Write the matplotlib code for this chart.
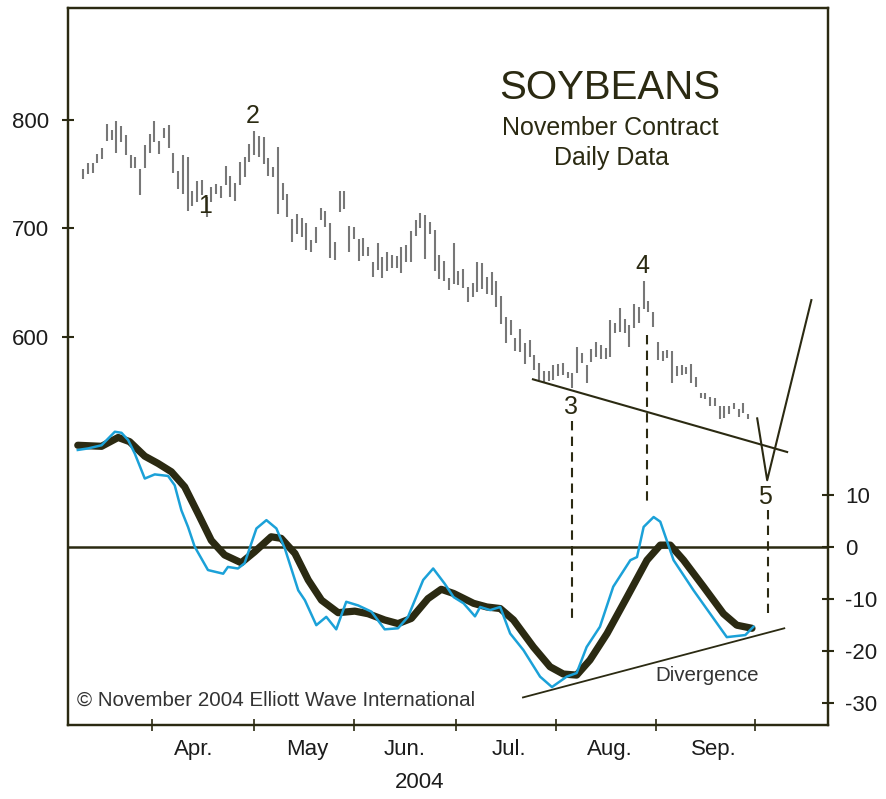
import matplotlib
matplotlib.use("Agg")
import matplotlib.pyplot as plt

plt.rcParams['font.family'] = ['Liberation Sans', 'DejaVu Sans']
plt.rcParams['axes.unicode_minus'] = False

# daily bars, one per trading day (index 0..140)
highs = [755, 760, 760, 769, 774, 796, 791, 799, 794, 786,
         768, 766, 755, 777, 787, 799, 781, 793, 795, 770,
         753, 768, 766, 735, 744, 745, 729, 738, 741, 739,
         758, 748, 742, 761, 766, 778, 790, 785, 784, 765,
         757, 775, 742, 732, 709, 713, 710, 705, 689, 701,
         719, 716, 705, 688, 735, 735, 702, 701, 690, 691,
         683, 669, 687, 674, 678, 676, 675, 683, 685, 698,
         708, 714, 712, 706, 699, 676, 670, 654, 687, 661,
         663, 646, 650, 669, 668, 655, 660, 652, 638, 618,
         616, 599, 607, 594, 597, 583, 576, 569, 569, 574,
         575, 576, 568, 567, 591, 585, 574, 589, 595, 593,
         590, 616, 613, 627, 617, 611, 630, 628, 652, 633,
         623, 595, 587, 588, 587, 573, 574, 572, 575, 563,
         548, 548, 545, 544, 536, 536, 536, 539, 534, 539,
         529]
lows = [746, 750, 751, 760, 764, 781, 782, 770, 780, 768,
        756, 756, 731, 756, 770, 780, 769, 783, 774, 751,
        736, 732, 716, 721, 724, 731, 711, 724, 732, 728,
        740, 729, 725, 740, 747, 761, 768, 766, 759, 748,
        747, 713, 726, 711, 688, 695, 692, 680, 678, 687,
        708, 701, 673, 671, 715, 718, 678, 690, 670, 675,
        675, 655, 662, 654, 661, 664, 664, 659, 669, 669,
        693, 700, 672, 695, 661, 653, 652, 643, 649, 648,
        645, 632, 637, 641, 644, 640, 639, 628, 612, 594,
        602, 587, 586, 575, 582, 570, 560, 558, 559, 560,
        564, 565, 562, 553, 567, 576, 558, 577, 582, 580,
        580, 582, 604, 605, 604, 591, 608, 613, 626, 623,
        609, 579, 578, 581, 558, 564, 565, 566, 558, 554,
        544, 543, 536, 536, 524, 525, 529, 534, 526, 530,
        524]
days = list(range(len(highs)))

# oscillator: slow (thick dark) and fast (blue)
slow_x = [-1.1, 3.9, 7.4, 9.8, 13.0, 15.8, 18.6, 21.4, 24.2, 27.0,
          29.8, 33.3, 36.1, 39.6, 41.7, 44.6, 47.4, 50.2, 53.7, 57.2,
          60.0, 63.5, 66.3, 69.1, 72.6, 75.4, 78.0, 82.2, 85.0, 87.8,
          90.6, 94.8, 98.3, 101.1, 103.9, 106.7, 110.3, 114.5, 118.7, 121.5,
          123.6, 126.4, 130.6, 134.8, 137.6, 140.8]
slow_y = [19.6, 19.4, 21.1, 20.3, 17.5, 16.1, 14.5, 11.6, 6.5, 1.3,
          -1.5, -3.0, -0.9, 2.0, 1.7, -1.2, -6.3, -10.2, -12.6, -12.3,
          -12.8, -14.0, -14.7, -13.7, -9.9, -8.1, -8.9, -10.8, -11.5, -11.8,
          -14.0, -19.2, -23.0, -24.4, -24.6, -21.7, -16.6, -9.6, -2.5, 0.4,
          0.4, -2.5, -7.6, -12.8, -15.0, -15.6]
fast_x = [-1.1, 1.1, 3.9, 6.7, 8.1, 9.5, 10.9, 13.0, 15.1, 17.9,
          19.3, 20.7, 22.1, 23.5, 26.3, 29.5, 30.5, 32.6, 34.0, 36.5,
          38.6, 40.7, 42.5, 45.3, 46.7, 49.1, 51.2, 53.3, 55.4, 57.9,
          60.7, 63.5, 66.3, 68.4, 71.6, 73.7, 76.1, 78.0, 80.1, 82.5,
          83.6, 85.7, 87.8, 89.9, 92.7, 96.2, 98.7, 101.8, 103.9, 106.0,
          108.8, 111.6, 115.2, 116.6, 118.0, 120.1, 121.5, 124.3, 128.5, 132.0,
          135.5, 139.4, 141.1]
fast_y = [18.7, 19.0, 19.6, 22.2, 22.0, 20.6, 18.0, 13.2, 14.0, 13.7,
          11.9, 7.1, 3.9, 0.1, -4.4, -5.1, -3.8, -4.1, -3.1, 3.6,
          5.2, 3.6, -0.3, -8.3, -10.2, -15.0, -13.4, -15.8, -10.5, -11.2,
          -12.4, -15.8, -15.6, -13.4, -6.3, -4.1, -7.0, -9.6, -10.8, -13.3,
          -11.5, -12.1, -11.5, -16.6, -19.8, -24.9, -26.9, -24.9, -24.2, -19.2,
          -15.3, -7.6, -2.5, -1.9, 3.9, 5.8, 4.9, -2.5, -8.3, -12.8,
          -17.3, -16.9, -15.3]

# annotation lines
trend_x, trend_y = [94.7, 148.2], [561, 494]
wave5_x, wave5_y = [141.9, 144.0, 153.3], [525, 468, 634]
diverg_x, diverg_y = [92.6, 147.6], [-28.9, -15.6]
wave_labels = ["1", "2", "3", "4", "5"]
wave_lx = [25.7, 35.8, 102.7, 117.7, 143.6]
wave_ly = [720.7, 803.7, 535.5, 665.4, 452.5]
drop_x = [102.9, 118.8, 144.1]
drop_top = [523, 602, 441]
drop_bot = [337, 448, 346]

month_ticks = [14.5, 36, 57, 78.5, 99.5, 120.5, 141.5]
month_pos = [23.4, 47.1, 67.6, 89.7, 110.9, 132.7]
month_names = ["Apr.", "May", "Jun.", "Jul.", "Aug.", "Sep."]

DARK = "#2b2a12"
BLUE = "#1ba1d8"
TXT = "#1c1c1c"

fig = plt.figure(figsize=(8.87, 7.99), dpi=100)
ax = fig.add_axes([68 / 887, 1 - 725 / 799, 760 / 887, 717 / 799])
ax2 = ax.twinx()

# price bars + wave annotations
ax.vlines(days, lows, highs, color="#777777", linewidth=1.5)
ax.plot(trend_x, trend_y, color=DARK, linewidth=1.5)
ax.plot(wave5_x, wave5_y, color=DARK, linewidth=1.5)
for x, t, b in zip(drop_x, drop_top, drop_bot):
    ax.plot([x, x], [t, b], color=DARK, linewidth=1.5, linestyle=(0, (4.5, 3)))
for s, x, y in zip(wave_labels, wave_lx, wave_ly):
    ax.text(x, y, s, fontsize=18, color=DARK, ha="center", va="center")

# oscillator
ax2.axhline(0, color=DARK, linewidth=1.8)
ax2.plot(slow_x, slow_y, color=DARK, linewidth=5.2, solid_capstyle="round",
         solid_joinstyle="round")
ax2.plot(fast_x, fast_y, color=BLUE, linewidth=1.8)
ax2.plot(diverg_x, diverg_y, color=DARK, linewidth=1.3)
ax2.text(120.4, -24.6, "Divergence", fontsize=14.8, color="#333333",
         ha="left", va="center")

ax.set_xlim(-3.16, 156.8)
ax.set_ylim(242.4, 903.2)
ax2.set_ylim(-34.2, 103.7)

ax.set_yticks([600, 700, 800])
ax2.set_yticks([10, 0, -10, -20, -30])
ax.set_xticks(month_ticks)
ax.set_xticklabels([])
ax.set_xticks(month_pos, minor=True)
ax.set_xticklabels(month_names, minor=True)

ax.tick_params(axis="y", direction="inout", length=9, width=1.5, color=DARK,
               labelsize=16, labelcolor=TXT, pad=9)
ax2.tick_params(axis="y", direction="inout", length=9, width=1.5, color=DARK,
                labelsize=16, labelcolor=TXT, pad=8)
ax.tick_params(axis="x", which="major", direction="inout", length=9, width=1.2,
               color=DARK)
ax.tick_params(axis="x", which="minor", length=0, labelsize=16, labelcolor=TXT, pad=10)

for a in (ax, ax2):
    for sp in a.spines.values():
        sp.set_color(DARK)
        sp.set_linewidth(1.6)

fig.text(610 / 887, 1 - 88 / 799, "SOYBEANS", fontsize=29, color=DARK,
         ha="center", va="center")
fig.text(610 / 887, 1 - 128 / 799, "November Contract", fontsize=18, color=DARK,
         ha="center", va="center")
fig.text(611 / 887, 1 - 158 / 799, "Daily Data", fontsize=18, color=DARK,
         ha="center", va="center")
fig.text(77 / 887, 1 - 700 / 799, "© November 2004 Elliott Wave International",
         fontsize=14.8, color="#333333", ha="left", va="center")
fig.text(420 / 887, 1 - 783 / 799, "2004", fontsize=16, color=TXT,
         ha="center", va="center")

fig.savefig("out.png", dpi=100)
